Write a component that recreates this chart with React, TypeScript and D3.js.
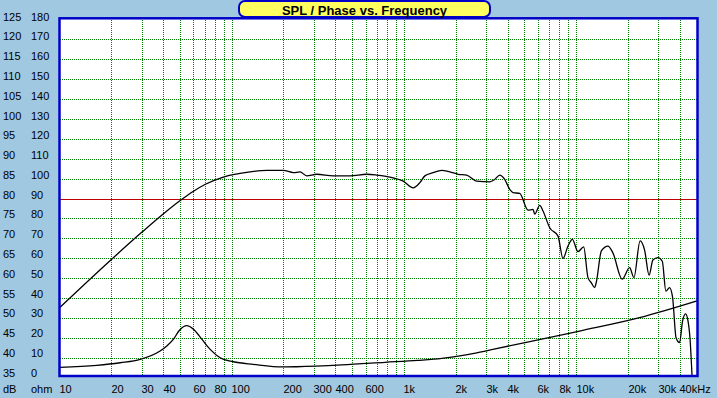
import React from 'react';
import * as d3 from 'd3';

// SPL curve (Hz, dB)
const splFreq = [10, 20, 30, 40, 50, 60, 70, 89, 127, 159, 198, 227, 248, 271, 310, 387, 483, 604, 690, 861, 984, 1125, 1230, 1315, 1469, 1643, 1836, 2051, 2294, 2622, 3132, 3346, 3577, 3824, 4089, 4272, 4672, 5220, 5581, 5709, 6102, 6377, 6973, 7792, 8329, 8904, 9444, 10176, 10980, 11630, 12170, 12720, 13010, 13910, 15190, 16230, 18360, 20290, 21490, 23340, 24790, 26320, 27690, 29600, 31400, 32940, 34600, 36020, 37750, 39560, 41170, 42850, 44300, 45500, 46800];
const splDb = [52.8, 64.9, 71.7, 76.3, 79.6, 82.0, 83.7, 85.5, 86.8, 87.2, 87.2, 86.6, 86.8, 85.8, 86.2, 85.8, 85.8, 86.2, 86.0, 85.3, 84.5, 82.8, 84.1, 85.8, 86.6, 87.2, 86.8, 86.2, 86.0, 84.5, 84.3, 84.9, 86.0, 84.9, 82.4, 81.6, 81.4, 77.2, 77.4, 76.2, 78.4, 77.0, 72.8, 70.7, 65.1, 68.2, 69.9, 66.8, 68.0, 60.3, 59.0, 57.8, 59.2, 67.0, 68.2, 66.5, 59.9, 62.8, 60.3, 69.5, 67.2, 60.9, 64.7, 65.3, 64.4, 56.9, 57.8, 55.4, 45.2, 44.0, 49.4, 51.2, 49.4, 44.9, 35];

// impedance curve (Hz, ohm)
const zFreq = [10, 16.4, 22.4, 29.3, 38.2, 41.8, 45.7, 49.5, 54.6, 59.7, 66.7, 74.6, 85.2, 101.7, 133, 198, 237, 434, 771, 1197, 1650, 2633, 3260, 10410, 23190, 50000];
const zOhm = [5.6, 6.6, 7.9, 9.6, 13.8, 16.3, 19.7, 24.2, 26.5, 24.7, 19.7, 14.6, 10.4, 8.4, 7.1, 5.8, 5.9, 6.8, 8.1, 9.1, 10.1, 12.9, 14.6, 23.8, 30.5, 38.9];

// axes
const dbTicks = [125, 120, 115, 110, 105, 100, 95, 90, 85, 80, 75, 70, 65, 60, 55, 50, 45, 40, 35];
const ohmTicks = [180, 170, 160, 150, 140, 130, 120, 110, 100, 90, 80, 70, 60, 50, 40, 30, 20, 10, 0];
const gridFreqs = [20, 30, 40, 50, 60, 70, 80, 90, 100, 200, 300, 400, 500, 600, 700, 800, 900, 1000, 2000, 3000, 4000, 5000, 6000, 7000, 8000, 9000, 10000, 20000, 30000, 40000];
const freqLabelValues = [10, 20, 30, 40, 60, 80, 100, 200, 300, 400, 600, 1000, 2000, 3000, 4000, 6000, 8000, 10000, 20000, 30000, 40000];
const freqLabels = ['10', '20', '30', '40', '60', '80', '100', '200', '300', '400', '600', '1k', '2k', '3k', '4k', '6k', '8k', '10k', '20k', '30k', '40kHz'];
const refLevel = 80;

const W = 717;
const H = 398;
const BG = '#a0c8e0';
const FRAME = '#0000c8';
const GRID = '#008000';
const FONT = 'Arial, "Liberation Sans", sans-serif';

const crisp = (v: number) => Math.floor(v) + 0.5;

export default function App() {
  const x = d3.scaleLog().domain([10, 50000]).range([59.8, 697.1]);
  const yDb = d3.scaleLinear().domain([35, 125]).range([378.5, 19.5]);
  const yOhm = d3.scaleLinear().domain([0, 180]).range([378.5, 19.5]);
  // text baselines of the left labels run a bit tighter than the grid
  const labelY = d3.scaleLinear().domain([35, 125]).range([376.7, 20.7]);

  const left = 59.5;
  const right = 697.5;
  const top = 18.3;
  const bottom = 376;

  const splLine = d3
    .line<number>()
    .curve(d3.curveMonotoneX)
    .x((d, i) => x(splFreq[i]))
    .y((d) => yDb(d));
  const zLine = d3
    .line<number>()
    .curve(d3.curveMonotoneX)
    .x((d, i) => x(zFreq[i]))
    .y((d) => yOhm(d));

  return (
    <svg width={W} height={H} style={{ position: 'absolute', left: 0, top: 0, display: 'block' }} fontFamily={FONT}>
      <rect x={0} y={0} width={W} height={H} fill={BG} />
      <defs>
        <clipPath id="plot">
          <rect x={left} y={top} width={right - left} height={bottom - top} />
        </clipPath>
      </defs>

      {/* plot area */}
      <rect x={left} y={top} width={right - left} height={bottom - top} fill="#fff" />

      {/* grid */}
      <g stroke={GRID} strokeWidth={1} strokeDasharray="1,1" shapeRendering="crispEdges">
        {gridFreqs.map((f) => (
          <line key={'v' + f} x1={crisp(x(f))} x2={crisp(x(f))} y1={top} y2={bottom} />
        ))}
        {dbTicks
          .filter((v) => v !== 125 && v !== 35 && v !== refLevel)
          .map((v) => (
            <line key={'h' + v} x1={left} x2={right} y1={crisp(yDb(v))} y2={crisp(yDb(v))} />
          ))}
      </g>
      <line x1={left} x2={right} y1={crisp(yDb(refLevel))} y2={crisp(yDb(refLevel))} stroke="#c00000" strokeWidth={1} shapeRendering="crispEdges" />

      {/* curves */}
      <g clipPath="url(#plot)" fill="none" stroke="#000" strokeWidth={1.3}>
        <path d={splLine(splDb) || ''} />
        <path d={zLine(zOhm) || ''} />
      </g>

      {/* frame */}
      <rect x={left} y={top} width={right - left} height={bottom - top} fill="none" stroke={FRAME} strokeWidth={2.5} />

      {/* left labels */}
      <g fontSize={11} fill="#000">
        {dbTicks.map((v) => (
          <text key={'db' + v} x={3} y={labelY(v)}>{v}</text>
        ))}
        {ohmTicks.map((v, i) => (
          <text key={'oh' + v} x={31} y={labelY(dbTicks[i])}>{v}</text>
        ))}
        <text x={3} y={393}>dB</text>
        <text x={31} y={393}>ohm</text>
        {freqLabelValues.map((f, i) => (
          <text key={'f' + f} x={Math.round(x(f)) - 0.5} y={393}>{freqLabels[i]}</text>
        ))}
      </g>

      {/* title */}
      <rect x={239} y={1} width={251} height={16} rx={6} fill="#ffff60" stroke={FRAME} strokeWidth={2} />
      <text x={364.5} y={14.5} textAnchor="middle" fontSize={13} fontWeight="bold" fill="#000">
        SPL / Phase vs. Frequency
      </text>
    </svg>
  );
}
